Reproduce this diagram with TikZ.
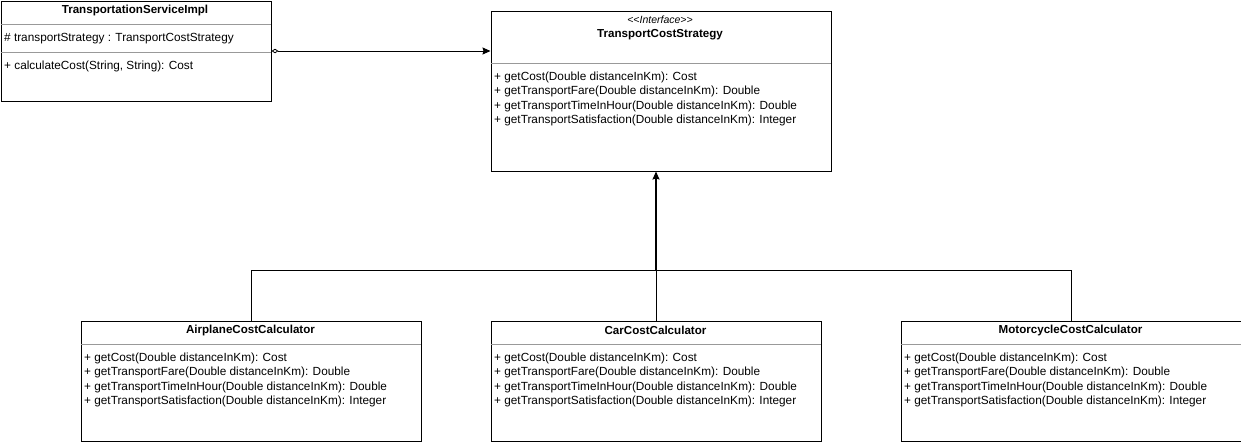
\documentclass[tikz,border=0pt]{standalone}
\usepackage{fontspec}
\setmainfont{Liberation Sans}
\usetikzlibrary{arrows.meta,calc}

\begin{document}
\begin{tikzpicture}[x=1pt,y=-1pt,
  classbox/.style={draw=black,line width=1pt,fill=white,rectangle,inner sep=0pt,anchor=north west},
  sepline/.style={draw=black!40,line width=0.8pt},
  title/.style={font=\fontsize{11.6}{13}\selectfont\bfseries,inner sep=0pt},
  stereo/.style={font=\fontsize{10.5}{12}\selectfont\itshape,inner sep=0pt},
  member/.style={font=\fontsize{11.8}{13}\selectfont,inner sep=0pt,anchor=base west},
  link/.style={draw=black,line width=1pt},
  realize/.style={link,-{Stealth[length=8pt,width=7pt,inset=1pt]}},
  aggregate/.style={link,{Diamond[open,length=7pt,width=4.5pt,line width=0.8pt]}-{Stealth[length=8pt,width=7pt,inset=1pt]}}
]
\useasboundingbox (0,0) rectangle (1241,442);

% --- TransportationServiceImpl
\node[classbox,minimum width=270pt,minimum height=100pt] (svc) at (0.5,0.5) {};
\node[title] (svcT) at (135,10.5) {TransportationServiceImpl};
\draw[sepline] (0.5,24) -- (270.5,24);
\node[member] (svcA) at (4,41) {\# transportStrategy : TransportCostStrategy};
\draw[sepline] (0.5,52) -- (270.5,52);
\node[member] (svcM) at (4,69) {+ calculateCost(String, String): Cost};

% --- TransportCostStrategy (interface)
\node[classbox,minimum width=340pt,minimum height=160pt] (strat) at (490.5,10.5) {};
\node[stereo] (stratS) at (660,20) {<\kern0pt<Interface>\kern0pt>};
\node[title] (stratT) at (660,34.5) {TransportCostStrategy};
\draw[sepline] (490.5,63) -- (830.5,63);
\foreach \txt [count=\i] in {%
  {+ getCost(Double distanceInKm): Cost},
  {+ getTransportFare(Double distanceInKm): Double},
  {+ getTransportTimeInHour(Double distanceInKm): Double},
  {+ getTransportSatisfaction(Double distanceInKm): Integer}}
  \node[member] (strat-m\i) at (494,{65.5+14.5*\i}) {\txt};

% --- Concrete calculators
\foreach \nm/\lbl/\x/\w in {air/AirplaneCostCalculator/80.5/340,
                            car/CarCostCalculator/490.5/330,
                            moto/MotorcycleCostCalculator/900.5/340} {
  \node[classbox,minimum width=\w pt,minimum height=120pt] (\nm) at (\x,320.5) {};
  \node[title] (\nm T) at ({\x+\w/2},330.5) {\lbl};
  \draw[sepline] (\x,344) -- ({\x+\w},344);
  \foreach \txt [count=\i] in {%
    {+ getCost(Double distanceInKm): Cost},
    {+ getTransportFare(Double distanceInKm): Double},
    {+ getTransportTimeInHour(Double distanceInKm): Double},
    {+ getTransportSatisfaction(Double distanceInKm): Integer}}
    \node[member] (\nm-m\i) at ({\x+3.5},{346.5+14.5*\i}) {\txt};
}

% --- Aggregation: service holds a strategy
\draw[aggregate] (svc.east) -- (svc.east -| strat.west);

% --- Realization tree
\coordinate (junction) at ($(car.north)+(0,-50)$);
\draw[link] (air.north) |- (junction);
\draw[link] (moto.north) |- (junction);
\draw[link] (car.north) -- (junction);
\draw[realize,line width=1.4pt] (junction) -- (junction |- strat.south);
\end{tikzpicture}
\end{document}
